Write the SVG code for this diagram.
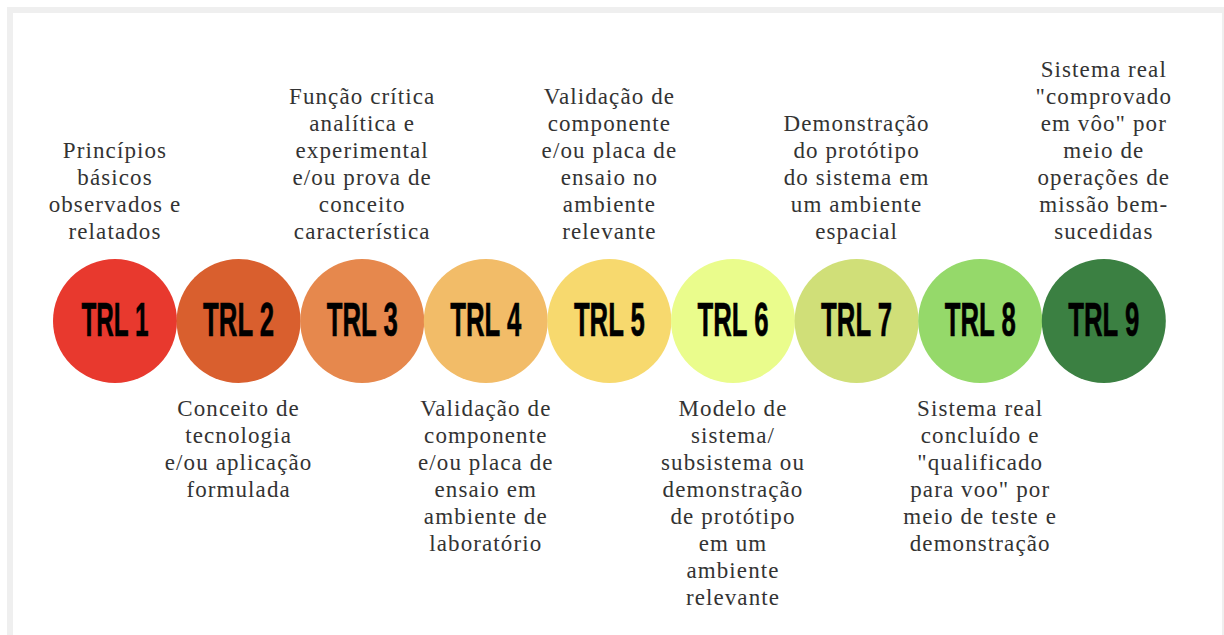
<svg xmlns="http://www.w3.org/2000/svg" width="1224" height="635" viewBox="0 0 1224 635">
<style>
.lbl{font-family:"Liberation Serif","Times New Roman",serif;font-size:23px;letter-spacing:1.1px;fill:#333;text-anchor:middle}
.trl{font-family:"Liberation Sans",Arial,sans-serif;font-weight:bold;font-size:48px;fill:#000;text-anchor:middle;stroke:#000;stroke-width:0.6}
</style>
<rect x="7" y="7" width="1217" height="628" fill="#efefef"/>
<rect x="13" y="13" width="1209" height="622" fill="#fff"/>
<g id="trl1">
<circle cx="115" cy="321" r="62" fill="#e8392e"/>
<text class="trl" x="115" y="336" textLength="67" lengthAdjust="spacingAndGlyphs">TRL 1</text>
<text class="lbl" x="115"><tspan x="115" y="158">Princípios</tspan><tspan x="115" y="185">básicos</tspan><tspan x="115" y="212">observados e</tspan><tspan x="115" y="239">relatados</tspan></text>
</g>
<g id="trl2">
<circle cx="238.6" cy="321" r="62" fill="#d95f2e"/>
<text class="trl" x="238.6" y="336" textLength="71" lengthAdjust="spacingAndGlyphs">TRL 2</text>
<text class="lbl"><tspan x="238.6" y="416">Conceito de</tspan><tspan x="238.6" y="443">tecnologia</tspan><tspan x="238.6" y="470">e/ou aplicação</tspan><tspan x="238.6" y="497">formulada</tspan></text>
</g>
<g id="trl3">
<circle cx="362.2" cy="321" r="62" fill="#e6884d"/>
<text class="trl" x="362.2" y="336" textLength="71" lengthAdjust="spacingAndGlyphs">TRL 3</text>
<text class="lbl"><tspan x="362.2" y="104">Função crítica</tspan><tspan x="362.2" y="131">analítica e</tspan><tspan x="362.2" y="158">experimental</tspan><tspan x="362.2" y="185">e/ou prova de</tspan><tspan x="362.2" y="212">conceito</tspan><tspan x="362.2" y="239">característica</tspan></text>
</g>
<g id="trl4">
<circle cx="485.8" cy="321" r="62" fill="#f2bc68"/>
<text class="trl" x="485.8" y="336" textLength="71" lengthAdjust="spacingAndGlyphs">TRL 4</text>
<text class="lbl"><tspan x="485.8" y="416">Validação de</tspan><tspan x="485.8" y="443">componente</tspan><tspan x="485.8" y="470">e/ou placa de</tspan><tspan x="485.8" y="497">ensaio em</tspan><tspan x="485.8" y="524">ambiente de</tspan><tspan x="485.8" y="551">laboratório</tspan></text>
</g>
<g id="trl5">
<circle cx="609.4" cy="321" r="62" fill="#f7d96e"/>
<text class="trl" x="609.4" y="336" textLength="71" lengthAdjust="spacingAndGlyphs">TRL 5</text>
<text class="lbl"><tspan x="609.4" y="104">Validação de</tspan><tspan x="609.4" y="131">componente</tspan><tspan x="609.4" y="158">e/ou placa de</tspan><tspan x="609.4" y="185">ensaio no</tspan><tspan x="609.4" y="212">ambiente</tspan><tspan x="609.4" y="239">relevante</tspan></text>
</g>
<g id="trl6">
<circle cx="733" cy="321" r="62" fill="#eafc8c"/>
<text class="trl" x="733" y="336" textLength="71" lengthAdjust="spacingAndGlyphs">TRL 6</text>
<text class="lbl"><tspan x="733" y="416">Modelo de</tspan><tspan x="733" y="443">sistema/</tspan><tspan x="733" y="470">subsistema ou</tspan><tspan x="733" y="497">demonstração</tspan><tspan x="733" y="524">de protótipo</tspan><tspan x="733" y="551">em um</tspan><tspan x="733" y="578">ambiente</tspan><tspan x="733" y="605">relevante</tspan></text>
</g>
<g id="trl7">
<circle cx="856.6" cy="321" r="62" fill="#d0df78"/>
<text class="trl" x="856.6" y="336" textLength="71" lengthAdjust="spacingAndGlyphs">TRL 7</text>
<text class="lbl"><tspan x="856.6" y="131">Demonstração</tspan><tspan x="856.6" y="158">do protótipo</tspan><tspan x="856.6" y="185">do sistema em</tspan><tspan x="856.6" y="212">um ambiente</tspan><tspan x="856.6" y="239">espacial</tspan></text>
</g>
<g id="trl8">
<circle cx="980.2" cy="321" r="62" fill="#95d96a"/>
<text class="trl" x="980.2" y="336" textLength="71" lengthAdjust="spacingAndGlyphs">TRL 8</text>
<text class="lbl"><tspan x="980.2" y="416">Sistema real</tspan><tspan x="980.2" y="443">concluído e</tspan><tspan x="980.2" y="470">"qualificado</tspan><tspan x="980.2" y="497">para voo" por</tspan><tspan x="980.2" y="524">meio de teste e</tspan><tspan x="980.2" y="551">demonstração</tspan></text>
</g>
<g id="trl9">
<circle cx="1103.8" cy="321" r="62" fill="#3b8042"/>
<text class="trl" x="1103.8" y="336" textLength="71" lengthAdjust="spacingAndGlyphs">TRL 9</text>
<text class="lbl"><tspan x="1103.8" y="77">Sistema real</tspan><tspan x="1103.8" y="104">"comprovado</tspan><tspan x="1103.8" y="131">em vôo" por</tspan><tspan x="1103.8" y="158">meio de</tspan><tspan x="1103.8" y="185">operações de</tspan><tspan x="1103.8" y="212">missão bem-</tspan><tspan x="1103.8" y="239">sucedidas</tspan></text>
</g>
<g id="connectors"></g>
</svg>
